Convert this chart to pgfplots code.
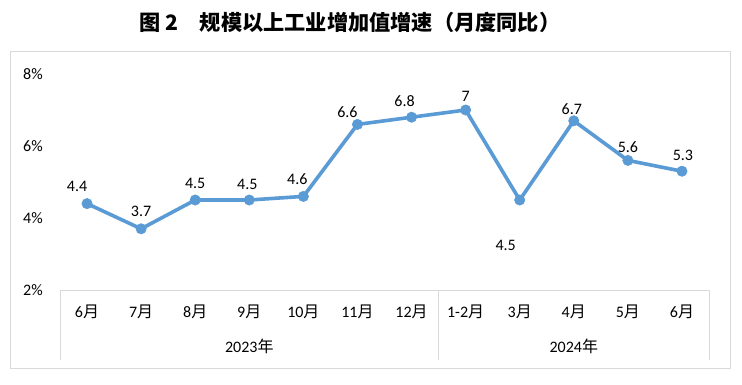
\documentclass[border=0pt]{standalone}
\usepackage{fontspec}
\setmainfont{Carlito}
\newfontfamily\cjk{Noto Sans CJK SC}
\usepackage{pgfplots}
\usepackage{pgfplotstable}
\pgfplotsset{compat=1.18}
\definecolor{lineblue}{HTML}{5B9BD5}
\definecolor{gridgray}{HTML}{D9D9D9}
\definecolor{txt}{HTML}{000000}
\newcommand{\yue}{{\cjk 月}}
\newcommand{\lblfont}{\fontsize{16}{18}\selectfont}
\pgfplotstableread{
x y dx dy
0 4.4 -10 17
1 3.7 0 17
2 4.5 0 17
3 4.5 -2 16
4 4.6 -6 17
5 6.6 -10 12
6 6.8 -7 16
7 7 0 14
8 4.5 -14 -45
9 6.7 -2 12
10 5.6 0 13
11 5.3 1 16
}\datatable
\begin{document}
\begin{tikzpicture}[x=1pt,y=1pt]
\useasboundingbox (0,0) rectangle (742,384);
\fill[white] (0,0) rectangle (742,384);
\draw[gridgray, line width=1pt] (10,16) rectangle (730,333);
\node[font=\fontsize{21.2}{25}\selectfont\cjk\bfseries, anchor=center] at (350,362) {图 2　规模以上工业增加值增速（月度同比）};
\begin{axis}[
  at={(60pt,94pt)}, anchor=south west,
  scale only axis, width=649pt, height=216pt,
  xmin=-0.5, xmax=11.5, ymin=2, ymax=8,
  clip=false,
  axis x line*=bottom, axis y line*=left,
  x axis line style={gridgray, line width=1pt, -},
  y axis line style={draw=none},
  ytick={2,4,6,8}, yticklabels={2\%,4\%,6\%,8\%},
  xtick={0,...,11},
  xticklabels={6\yue,7\yue,8\yue,9\yue,10\yue,11\yue,12\yue,1-2\yue,3\yue,4\yue,5\yue,6\yue},
  tick style={draw=none},
  xticklabel style={anchor=center, yshift=-22pt, font=\lblfont, text=txt},
  yticklabel style={anchor=center, xshift=-27pt, font=\lblfont, text=txt},
  /pgf/number format/assume math mode=true,
  /pgf/number format/fixed,
]
\addplot[lineblue, line width=3.6pt, mark=*, mark size=5.2pt, mark options={fill=lineblue, draw=lineblue, line width=0.5pt},
  visualization depends on={\thisrow{dx}\as\dx},
  visualization depends on={\thisrow{dy}\as\dy},
  nodes near coords,
  every node near coord/.append style={anchor=center, xshift=\dx pt, yshift=\dy pt, font=\lblfont, text=txt}
] table[x=x, y=y] {\datatable};
\draw[gridgray, line width=1pt] (axis cs:-0.5,2) -- ([yshift=-70pt]axis cs:-0.5,2);
\draw[gridgray, line width=1pt] (axis cs:6.5,2) -- ([yshift=-70pt]axis cs:6.5,2);
\draw[gridgray, line width=1pt] (axis cs:11.5,2) -- ([yshift=-70pt]axis cs:11.5,2);
\node[font=\lblfont, text=txt] at ([yshift=-56pt]axis cs:3,2) {2023{\cjk 年}};
\node[font=\lblfont, text=txt] at ([yshift=-56pt]axis cs:9,2) {2024{\cjk 年}};
\end{axis}
\end{tikzpicture}
\end{document}
